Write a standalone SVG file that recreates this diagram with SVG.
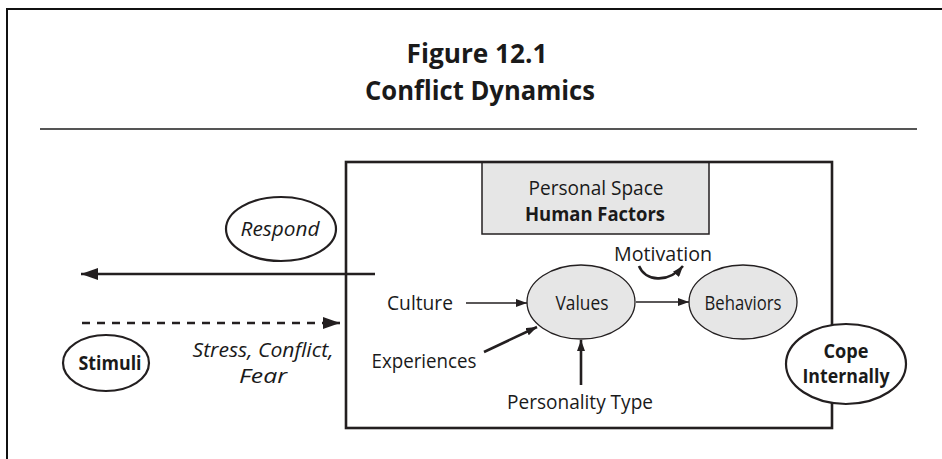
<svg xmlns="http://www.w3.org/2000/svg" width="942" height="459" viewBox="0 0 942 459">
<style>
text{font-family:"Open Sans","Noto Sans","Liberation Sans",sans-serif;fill:#1a1a1a;}
.t{font-size:26px;font-weight:bold;text-anchor:middle;}
.b{font-size:20px;text-anchor:middle;}
.bb{font-size:20px;font-weight:bold;text-anchor:middle;}
.i{font-size:20px;font-style:italic;text-anchor:middle;}
.oval{fill:#fff;stroke:#231f20;stroke-width:2.2;}
.gov{fill:#e6e6e6;stroke:#231f20;stroke-width:1.3;}
.ln{fill:none;stroke:#231f20;stroke-width:2.6;}
.sl{fill:none;stroke:#231f20;stroke-width:1.6;}
</style>
<defs>
<marker id="big" markerUnits="userSpaceOnUse" markerWidth="18" markerHeight="12" refX="17" refY="6" orient="auto"><path d="M0,0 L17,6 L0,12 Z" fill="#231f20"/></marker>
<marker id="sm" markerUnits="userSpaceOnUse" markerWidth="12" markerHeight="8" refX="11" refY="4" orient="auto"><path d="M0,0 L11,4 L0,8 Z" fill="#231f20"/></marker>
</defs>
<g id="frame">
<path d="M7,459 V9 H942" fill="none" stroke="#111" stroke-width="2"/>
<line x1="40" y1="129" x2="917" y2="129" stroke="#555" stroke-width="2"/>
</g>
<g id="title">
<text class="t" x="477" y="63" textLength="141" lengthAdjust="spacingAndGlyphs">Figure 12.1</text>
<text class="t" x="480" y="100" textLength="230" lengthAdjust="spacingAndGlyphs">Conflict Dynamics</text>
</g>
<g id="personal-space">
<rect x="482" y="162" width="227" height="72" fill="#e6e6e6" stroke="#231f20" stroke-width="1.5"/>
<text class="b" x="596" y="195" textLength="135" lengthAdjust="spacingAndGlyphs">Personal Space</text>
<text class="bb" x="595" y="221" textLength="140" lengthAdjust="spacingAndGlyphs">Human Factors</text>
</g>
<g id="box">
<rect x="346" y="162" width="486" height="266" class="ln"/>
</g>
<g id="connectors">
<path d="M375,274 H81" class="ln" marker-end="url(#big)"/>
<path d="M82,323 H326" class="ln" stroke-dasharray="8 7"/>
<path d="M324,323 H340" class="ln" marker-end="url(#big)"/>
<path d="M466,303 H527" class="sl" marker-end="url(#sm)"/>
<path d="M484,352 L537,327" class="ln" stroke-width="2" marker-end="url(#sm)"/>
<path d="M581,385 V340" class="ln" stroke-width="2" marker-end="url(#sm)"/>
<path d="M636,302 H689" class="sl" marker-end="url(#sm)"/>
<path d="M639,266 C645,281 668,284 683,266" class="ln" stroke-width="2" marker-end="url(#sm)"/>
</g>
<g id="respond">
<ellipse cx="281" cy="229" rx="55" ry="32" class="oval"/>
<text class="i" x="280" y="236" textLength="79" lengthAdjust="spacingAndGlyphs">Respond</text>
</g>
<g id="stimuli">
<ellipse cx="106" cy="363" rx="43" ry="28" class="oval"/>
<text class="bb" x="110" y="370" textLength="63" lengthAdjust="spacingAndGlyphs">Stimuli</text>
</g>
<g id="stress">
<text class="i" x="263" y="357" textLength="141" lengthAdjust="spacingAndGlyphs">Stress, Conflict,</text>
<text class="i" x="263" y="383" textLength="48" lengthAdjust="spacingAndGlyphs">Fear</text>
</g>
<g id="culture"><text class="b" x="420" y="310" textLength="66" lengthAdjust="spacingAndGlyphs">Culture</text></g>
<g id="experiences"><text class="b" x="424" y="368" textLength="105" lengthAdjust="spacingAndGlyphs">Experiences</text></g>
<g id="personality"><text class="b" x="580" y="409" textLength="146" lengthAdjust="spacingAndGlyphs">Personality Type</text></g>
<g id="motivation"><text class="b" x="663" y="261" textLength="98" lengthAdjust="spacingAndGlyphs">Motivation</text></g>
<g id="values">
<ellipse cx="581" cy="302" rx="54" ry="37" class="gov"/>
<text class="b" x="582" y="310" textLength="53" lengthAdjust="spacingAndGlyphs">Values</text>
</g>
<g id="behaviors">
<ellipse cx="743" cy="302" rx="54" ry="37" class="gov"/>
<text class="b" x="743" y="310" textLength="77" lengthAdjust="spacingAndGlyphs">Behaviors</text>
</g>
<g id="cope">
<ellipse cx="846" cy="364" rx="60" ry="40" class="oval"/>
<text class="bb" x="846" y="358" textLength="45" lengthAdjust="spacingAndGlyphs">Cope</text>
<text class="bb" x="846" y="383" textLength="87" lengthAdjust="spacingAndGlyphs">Internally</text>
</g>
</svg>
